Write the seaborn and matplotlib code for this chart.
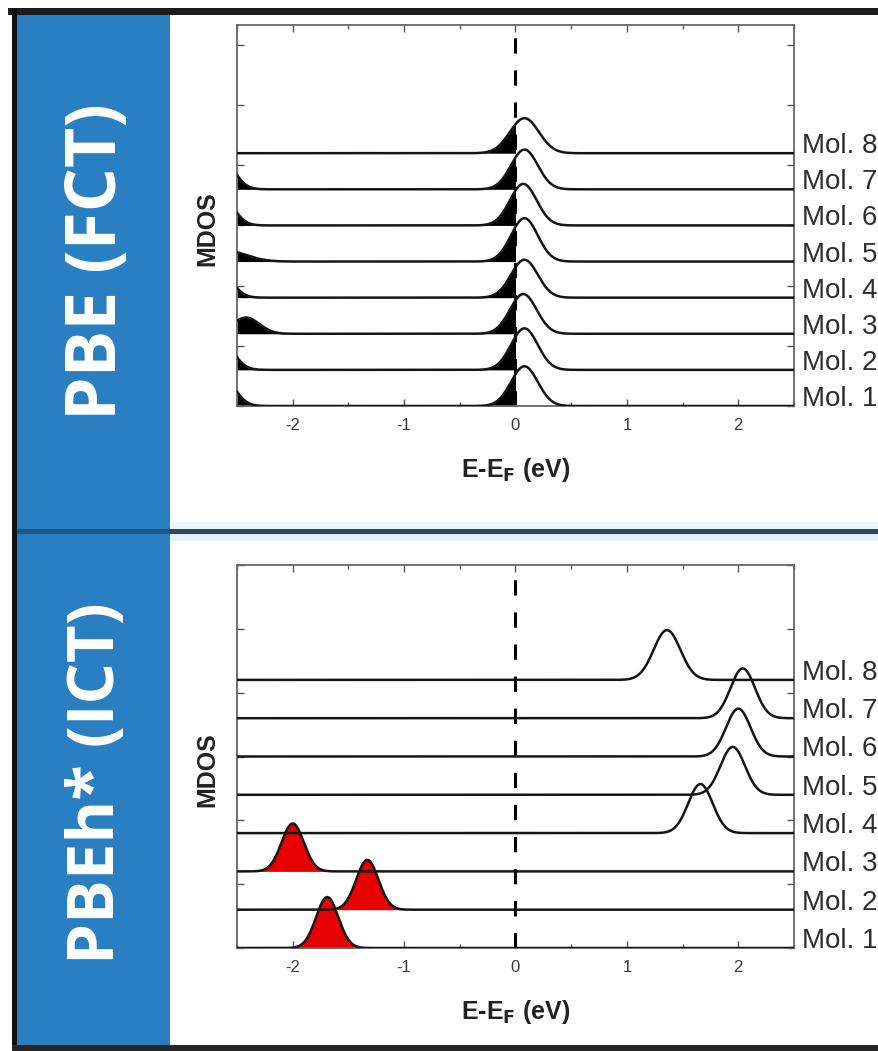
import numpy as np
import pandas as pd
import matplotlib
matplotlib.use("Agg")
import matplotlib.pyplot as plt
import matplotlib.transforms as mtransforms
from matplotlib.patches import Rectangle
from matplotlib.ticker import MultipleLocator
import seaborn as sns

# ---------------------------------------------------------------- data
molecules = [f"Mol. {i}" for i in range(1, 9)]
energy_ticks = [-2, -1, 0, 1, 2]

# PBE (FCT): frontier level pinned at the Fermi energy
pbe_peak_center = [0.08, 0.08, 0.07, 0.08, 0.08, 0.07, 0.08, 0.08]
pbe_peak_height = [1.10, 1.15, 1.10, 1.05, 1.20, 1.15, 1.10, 0.97]
pbe_peak_width = [0.12, 0.12, 0.12, 0.12, 0.12, 0.12, 0.12, 0.13]
# PBE (FCT): deeper occupied levels entering at the low-energy edge
pbe_deep_center = [-2.67, -2.68, -2.42, -2.70, -2.60, -2.68, -2.67, -2.70]
pbe_deep_height = [1.10, 1.10, 0.45, 1.10, 0.30, 1.10, 1.10, 0.00]
pbe_deep_width = [0.12, 0.12, 0.12, 0.12, 0.18, 0.12, 0.12, 0.12]

# PBEh* (ICT): one molecular level per molecule
pbeh_center = [-1.69, -1.33, -2.00, 1.66, 1.95, 2.00, 2.04, 1.36]
pbeh_height = [1.33, 1.30, 1.25, 1.28, 1.25, 1.25, 1.30, 1.30]
pbeh_width = [0.10, 0.10, 0.10, 0.11, 0.11, 0.11, 0.11, 0.12]

panel_titles = ["PBE (FCT)", "PBEh* (ICT)"]

# ---------------------------------------------------------------- style
sns.set_theme(style="ticks")
plt.rcParams["font.family"] = ["Liberation Sans", "DejaVu Sans"]
plt.rcParams["axes.unicode_minus"] = False

W, H = 879, 1051
fig = plt.figure(figsize=(W / 100, H / 100), dpi=100, facecolor="white")


def px_rect(x0, y0, x1, y1, color):
    fig.patches.append(Rectangle((x0 / W, 1 - y1 / H), (x1 - x0) / W, (y1 - y0) / H,
                                 transform=fig.transFigure, facecolor=color,
                                 edgecolor="none", zorder=0))


def px_axes(left, top, right, bottom):
    return fig.add_axes([left / W, 1 - bottom / H, (right - left) / W, (bottom - top) / H])


# frame, side band and divider
px_rect(8, 8, 879, 15, "#1c1c1c")
px_rect(12, 8, 17, 1051, "#111111")
px_rect(12, 1045, 879, 1051, "#262626")
px_rect(17, 15, 170, 1045, "#2a7fc3")
px_rect(170, 522, 879, 529, "#eef6fb")
px_rect(170, 534, 879, 541, "#e4f0f8")
px_rect(17, 529, 170, 534, "#1d5687")
px_rect(170, 529, 879, 534, "#2b4760")

for title, yc, fs in zip(panel_titles, [262, 783], [50, 47]):
    fig.text(98 / W, 1 - yc / H, title, rotation=90, ha="center", va="center",
             color="white", fontsize=fs, fontweight="bold", family="Open Sans")

energy = np.linspace(-2.5, 2.5, 1201)


def gauss(center, height, width):
    return height * np.exp(-0.5 * ((energy - center) / width) ** 2)


def build_frame(levels):
    rows = []
    for i, (name, dos) in enumerate(zip(molecules, levels)):
        rows.append(pd.DataFrame({"energy": energy, "mdos": dos, "offset": float(i),
                                  "level": i + dos, "molecule": name}))
    return pd.concat(rows, ignore_index=True)


pbe_levels = [gauss(c, h, w) + gauss(dc, dh, dw)
              for c, h, w, dc, dh, dw in zip(pbe_peak_center, pbe_peak_height, pbe_peak_width,
                                             pbe_deep_center, pbe_deep_height, pbe_deep_width)]
pbeh_levels = [gauss(c, h, w) for c, h, w in zip(pbeh_center, pbeh_height, pbeh_width)]

panels = [
    (build_frame(pbe_levels), "black", (25, 406), 10.55),
    (build_frame(pbeh_levels), "#e60000", (565, 948), 10.0),
]

for df, fill_color, (top, bottom), ytop in panels:
    ax = px_axes(237, top, 794, bottom)
    ax.set_facecolor("white")

    ax.axvline(0, color="black", lw=2.2, dashes=(5, 5.5), zorder=1.5)

    for name, sub in df.groupby("molecule", sort=False):
        occ = sub["energy"].to_numpy() <= 0
        ax.fill_between(sub["energy"], sub["offset"], sub["level"], where=occ,
                        color=fill_color, lw=0, zorder=2)

    sns.lineplot(data=df, x="energy", y="level", units="molecule", estimator=None,
                 sort=False, color="#151515", lw=1.8, ax=ax, zorder=3)

    trans = mtransforms.blended_transform_factory(ax.transAxes, ax.transData)
    for i, name in enumerate(molecules):
        ax.text(1.0144, i, name, transform=trans, ha="left", va="baseline",
                fontsize=20, color="#2e2e2e", clip_on=False)

    ax.set_xlim(-2.5, 2.5)
    ax.set_ylim(0, ytop)
    ax.set_xticks(energy_ticks)
    ax.set_xticklabels([str(t) for t in energy_ticks])
    ax.xaxis.set_minor_locator(MultipleLocator(0.5))
    ax.yaxis.set_major_locator(MultipleLocator(5 / 3))
    ax.tick_params(axis="both", which="both", direction="in", top=True, right=True,
                   color="#555555", width=1.0)
    ax.tick_params(axis="both", which="major", length=5)
    ax.tick_params(axis="x", which="minor", length=3)
    ax.tick_params(axis="y", labelleft=False)
    ax.tick_params(axis="x", labelsize=12, labelcolor="#3a3a3a", pad=9)
    for s in ax.spines.values():
        s.set_color("#666666")
        s.set_linewidth(1.3)

    ax.set_xlabel(r"E-E$_\mathbf{F}$ (eV)", fontsize=18, fontweight="bold", color="#222222")
    ax.xaxis.set_label_coords(0.5, -64 / (bottom - top))
    ax.xaxis.label.set_va("center")
    ax.set_ylabel("MDOS", fontsize=18, fontweight="bold", color="#222222")
    ax.yaxis.set_label_coords((207 - 237) / 557, 0.465)
    ax.yaxis.label.set_va("center")

fig.savefig("out.png", dpi=100, facecolor="white")
